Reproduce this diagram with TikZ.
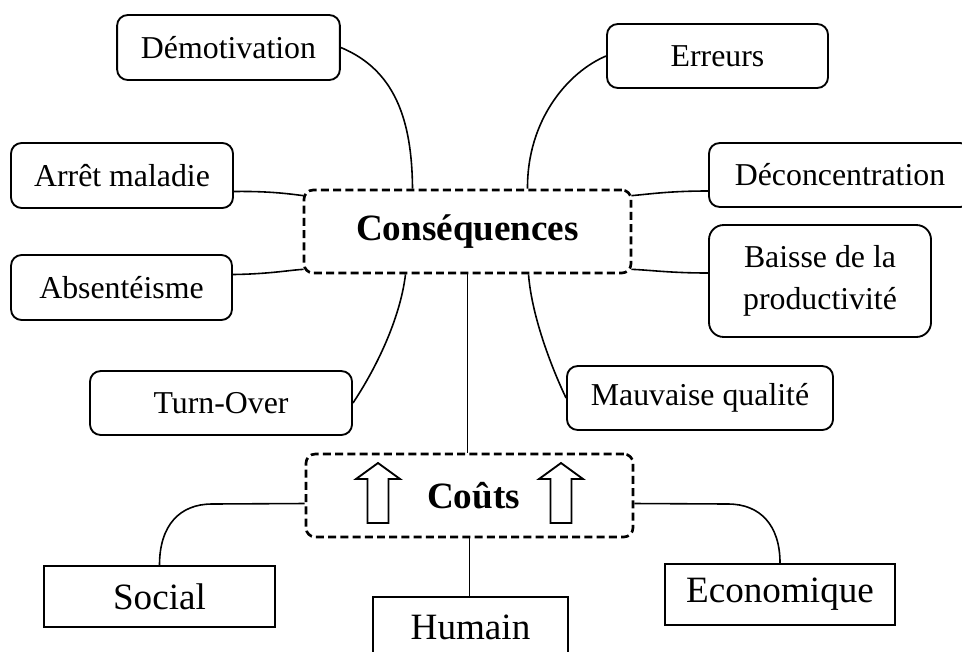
\documentclass[tikz,border=0pt]{standalone}
\usepackage{fontspec}
\setmainfont{Liberation Serif}
\usetikzlibrary{calc}

\begin{document}
\begin{tikzpicture}[x=0.1325mm,y=-0.1325mm,
    effet/.style={draw,rounded corners=4pt,line width=0.7pt,inner sep=0pt,
      align=center,font=\fontsize{12}{15.8}\selectfont},
    cout/.style={draw,line width=0.7pt,inner sep=0pt,font=\fontsize{14}{16}\selectfont},
    hub/.style={draw,rounded corners=3.5pt,line width=1pt,dash pattern=on 3pt off 1.6pt,
      inner sep=0pt,minimum width=123.3pt,minimum height=31.3pt,font=\fontsize{14}{16}\selectfont\bfseries},
    lien/.style={line width=0.6pt}]
  \useasboundingbox (0,0) rectangle (962,651);
  % les deux cadres centraux
  \node[hub] (cons) at (467.5,231.5) {Conséquences};
  \node[hub] (couts) at (469.5,495.5) {\hspace*{3pt}Coûts};
  \foreach \x in {378,561}
    \draw[line width=0.7pt] (\x,463) -- (\x+22,479) -- (\x+10.5,479) -- (\x+10.5,523)
      -- (\x-10.5,523) -- (\x-10.5,479) -- (\x-22,479) -- cycle;
  % consequences
  \node[effet,minimum width=84pt,minimum height=24.5pt] (demot) at (228.5,47.5) {Démotivation};
  \node[effet,minimum width=83.7pt,minimum height=24.5pt] (arret) at (122,175.5) {Arrêt maladie};
  \node[effet,minimum width=83.3pt,minimum height=24.5pt] (absent) at (121.5,287.5) {Absentéisme};
  \node[effet,minimum width=98.8pt,minimum height=24.1pt] (turn) at (221,403) {Turn-Over};
  \node[effet,minimum width=83.3pt,minimum height=24.1pt] (erreurs) at (717.5,56) {Erreurs};
  \node[effet,minimum width=98.8pt,minimum height=24.1pt] (deconc) at (840,175) {Déconcentration};
  \node[effet,rounded corners=5.5pt,minimum width=83.7pt,minimum height=42.2pt] (baisse) at (820,281)
    {Baisse de la\\productivité};
  \node[effet,minimum width=100.3pt,minimum height=24.1pt] (mauv) at (700,398) {Mauvaise qualité};
  % couts
  \node[cout,minimum width=87pt,minimum height=23pt] (social) at (159.5,596.5) {Social};
  \node[cout,minimum width=73.5pt,minimum height=23pt] (humain) at (470.5,627.5) {Humain};
  \node[cout,minimum width=86.7pt,minimum height=23pt] (eco) at (780,594.5) {Economique};
  % liens
  \draw[lien] (demot.east) .. controls (395,70) and (412,120) .. ($(cons.north)+(-55,0)$);
  \draw[lien] (erreurs.west) .. controls (568,72) and (527,120) .. ($(cons.north)+(60,0)$);
  \draw[lien] ($(arret.east)+(0,16)$) .. controls (270,191) and (290,194) .. ($(cons.north west)+(1,7)$);
  \draw[lien] ($(absent.east)+(0,-13)$) .. controls (270,274) and (290,270) .. ($(cons.south west)+(1,-5)$);
  \draw[lien] (turn.east) .. controls (375,370) and (400,320) .. ($(cons.south)+(-62,0)$);
  \draw[lien] ($(deconc.west)+(0,16)$) .. controls (670,191) and (650,194) .. ($(cons.north east)+(-1,7)$);
  \draw[lien] ($(baisse.west)+(0,-8)$) .. controls (670,273) and (650,270) .. ($(cons.south east)+(-1,-5)$);
  \draw[lien] (mauv.west) .. controls (555,375) and (532,320) .. ($(cons.south)+(61,0)$);
  \draw[lien] (cons.south) -- (cons.south |- couts.north);
  \draw[lien] ($(couts.west)+(0,8)$) -- (212,504) .. controls (180,504) and (159.5,525) .. (social.north);
  \draw[lien] ($(couts.east)+(0,8)$) -- (728,504) .. controls (760,504) and (780,525) .. (eco.north);
  \draw[lien] (couts.south) -- (couts.south |- humain.north);
\end{tikzpicture}
\end{document}
